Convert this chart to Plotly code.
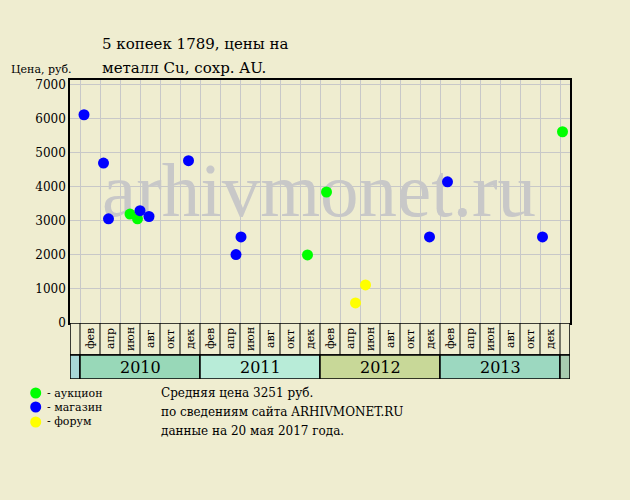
import plotly.graph_objects as go

# ---- data (x = months since Jan 2010, 0 = start of Jan 2010) ----
green_x = [5.0, 5.75, 22.75, 24.65, 48.25]
green_y = [3200, 3060, 2000, 3850, 5620]
blue_x = [0.4, 2.35, 2.85, 6.0, 6.9, 10.85, 15.6, 16.1, 34.95, 36.75, 46.25]
blue_y = [6120, 4700, 3060, 3300, 3130, 4770, 2010, 2530, 2530, 4150, 2530]
yellow_x = [27.55, 28.55]
yellow_y = [590, 1120]

years = [2010, 2011, 2012, 2013]
month_labels = ["фев", "апр", "июн", "авг", "окт", "дек"]
year_colors = ["#98D8B8", "#B8ECD8", "#C8D898", "#9CD8C0"]
edge_colors = ["#A8D8D8", "#A8CCB0"]
y_ticks = [0, 1000, 2000, 3000, 4000, 5000, 6000, 7000]

legend_names = ["- аукцион", "- магазин", "- форум"]
legend_colors = ["#00FF00", "#0000FF", "#FFFF00"]

title_lines = ["5 копеек 1789, цены на", "металл Cu, сохр. AU."]
y_label = "Цена, руб."
info_lines = ["Средняя цена 3251 руб.",
              "по сведениям сайта ARHIVMONET.RU",
              "данные на 20 мая 2017 года."]
watermark = "arhivmonet.ru"

BG = "#EFEDD0"
FONT = "DejaVu Serif, serif"

W, H = 630, 500
ML, MR, MT, MB = 70, 60, 80, 121
PW = W - ML - MR
PH = H - MT - MB
STRIP = 56  # px height of label strip
d = STRIP / PH

def px(x):
    return (x - ML) / PW

def py(y):
    return (H - MB - y) / PH

fig = go.Figure()

# watermark behind markers
fig.add_trace(go.Scatter(x=[23.9], y=[3700], mode="text", text=[watermark],
                         textfont=dict(family="Liberation Serif, serif", size=77, color="#C8C8C8"),
                         hoverinfo="skip", showlegend=False, cliponaxis=False))

for xs, ys, c in [(green_x, green_y, legend_colors[0]),
                  (blue_x, blue_y, legend_colors[1]),
                  (yellow_x, yellow_y, legend_colors[2])]:
    fig.add_trace(go.Scatter(x=xs, y=ys, mode="markers",
                             marker=dict(size=11, color=c, line=dict(width=0)),
                             showlegend=False))

n_months = len(years) * 12
xr = [-1, n_months + 1]

fig.update_layout(
    width=W, height=H,
    margin=dict(l=ML, r=MR, t=MT, b=MB, pad=0),
    paper_bgcolor=BG, plot_bgcolor=BG,
    showlegend=False,
    xaxis=dict(domain=[0, 1], range=xr, anchor="y", tick0=0, dtick=2,
               showgrid=True, gridcolor="#C8C8C8", gridwidth=1,
               showticklabels=False, ticks="", zeroline=False,
               showline=True, linecolor="black", linewidth=1.5, mirror=True),
    yaxis=dict(domain=[d, 1], range=[0, 7141], tickvals=y_ticks,
               showgrid=True, gridcolor="#C8C8C8", gridwidth=1,
               ticks="", zeroline=False,
               tickfont=dict(family=FONT, size=12, color="black"),
               showline=True, linecolor="black", linewidth=1.5, mirror=True),
    xaxis2=dict(domain=[0, 1], range=xr, anchor="y2", matches="x",
                showgrid=False, showticklabels=False, ticks="", zeroline=False,
                showline=False),
    yaxis2=dict(domain=[0, d], range=[0, STRIP], showgrid=False,
                showticklabels=False, ticks="", zeroline=False, showline=False),
)

shapes = []
MROW0, MROW1 = 24, STRIP
# month row background and border
shapes.append(dict(type="rect", xref="x2", yref="y2", x0=xr[0], x1=xr[1], y0=MROW0, y1=MROW1,
                   line=dict(color="black", width=1.5), fillcolor=BG, layer="below"))
for m in range(0, n_months + 1, 2):
    shapes.append(dict(type="line", xref="x2", yref="y2", x0=m, x1=m, y0=MROW0, y1=MROW1,
                       line=dict(color="black", width=1)))
# year row
shapes.append(dict(type="rect", xref="x2", yref="y2", x0=xr[0], x1=0, y0=0, y1=MROW0,
                   line=dict(color="black", width=1.5), fillcolor=edge_colors[0]))
for i, yv in enumerate(years):
    shapes.append(dict(type="rect", xref="x2", yref="y2", x0=i * 12, x1=(i + 1) * 12, y0=0, y1=MROW0,
                       line=dict(color="black", width=1.5), fillcolor=year_colors[i]))
shapes.append(dict(type="rect", xref="x2", yref="y2", x0=n_months, x1=xr[1], y0=0, y1=MROW0,
                   line=dict(color="black", width=1.5), fillcolor=edge_colors[1]))

annotations = []
for i, yv in enumerate(years):
    annotations.append(dict(xref="x2", yref="y2", x=i * 12 + 6, y=12, text=str(yv),
                            showarrow=False, font=dict(family=FONT, size=16, color="black")))
    for j, ml in enumerate(month_labels):
        annotations.append(dict(xref="x2", yref="y2", x=i * 12 + 2 * j + 1, y=40, text=ml,
                                textangle=-90, showarrow=False,
                                font=dict(family=FONT, size=11, color="black")))

# legend (custom)
leg_y = [393, 407, 422]
for name, c, ly in zip(legend_names, legend_colors, leg_y):
    shapes.append(dict(type="circle", xref="paper", yref="paper", xsizemode="pixel", ysizemode="pixel",
                       xanchor=px(35.7), yanchor=py(ly), x0=-5.5, x1=5.5, y0=-5.5, y1=5.5,
                       fillcolor=c, line=dict(width=0)))
    annotations.append(dict(xref="paper", yref="paper", x=px(45), y=py(ly), xanchor="left",
                            yanchor="middle", text=name, showarrow=False,
                            font=dict(family=FONT, size=11, color="black")))

# title
for t, ty in zip(title_lines, [44, 68]):
    annotations.append(dict(xref="paper", yref="paper", x=px(100), y=py(ty), xanchor="left",
                            yanchor="middle", text=t, showarrow=False,
                            font=dict(family=FONT, size=15, color="black")))
annotations.append(dict(xref="paper", yref="paper", x=px(9), y=py(69), xanchor="left",
                        yanchor="middle", text=y_label, showarrow=False,
                        font=dict(family=FONT, size=11, color="black")))
for t, ty in zip(info_lines, [393, 412, 431]):
    annotations.append(dict(xref="paper", yref="paper", x=px(159), y=py(ty), xanchor="left",
                            yanchor="middle", text=t, showarrow=False,
                            font=dict(family=FONT, size=12, color="black")))

fig.update_layout(shapes=shapes, annotations=annotations)
fig.write_html("out.html", config={"displayModeBar": False},
               post_script="document.body.style.margin='0';")
